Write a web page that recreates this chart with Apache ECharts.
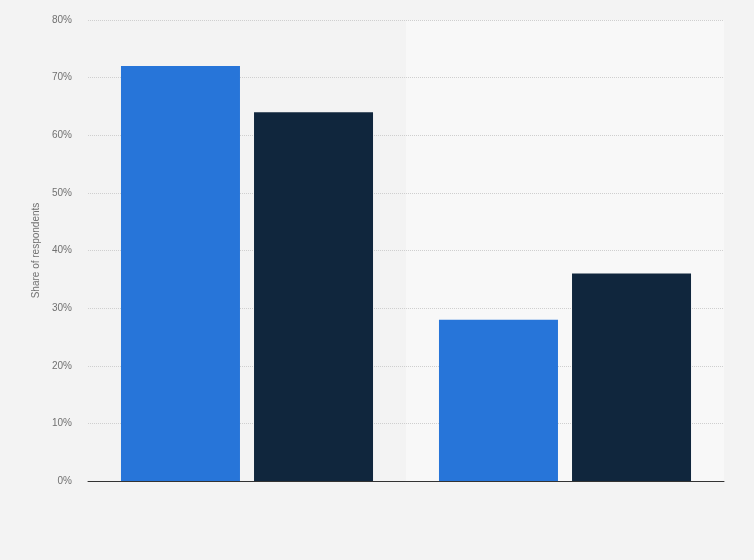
<!DOCTYPE html>
<html>
<head>
<meta charset="utf-8">
<script src="https://cdn.jsdelivr.net/npm/echarts@6/dist/echarts.min.js"></script>
<style>
html,body{margin:0;padding:0;background:#f3f3f3;}
#c{width:754px;height:560px;}
</style>
</head>
<body>
<div id="c"></div>
<script>
var categories = ['', ''];
var seriesA = [72, 28];
var seriesB = [64, 36];
var yTicks = [0, 10, 20, 30, 40, 50, 60, 70, 80];

var chart = echarts.init(document.getElementById('c'));
chart.setOption({
  backgroundColor: '#f3f3f3',
  animation: false,
  grid: { left: 88, right: 30, top: 20, bottom: 79 },
  xAxis: [{
    type: 'category',
    data: categories,
    z: 0,
    axisLine: { show: false },
    axisTick: { show: false },
    axisLabel: { show: false },
    splitArea: { show: true, areaStyle: { color: ['#f3f3f3', '#f8f8f8'] } }
  }, {
    type: 'category',
    data: categories,
    position: 'bottom',
    z: 5,
    axisLine: { show: true, onZero: false, lineStyle: { color: '#333', width: 1 } },
    axisTick: { show: false },
    axisLabel: { show: false },
    splitArea: { show: false },
    splitLine: { show: false }
  }],
  yAxis: {
    type: 'value',
    z: 1,
    min: yTicks[0],
    max: yTicks[yTicks.length - 1],
    interval: 10,
    name: 'Share of respondents',
    nameLocation: 'middle',
    nameGap: 43,
    nameTextStyle: { color: '#707070', fontSize: 10, fontFamily: 'Arial, Liberation Sans, sans-serif' },
    axisLine: { show: false },
    axisTick: { show: false },
    axisLabel: {
      margin: 16,
      color: '#707070',
      fontSize: 10,
      fontFamily: 'Arial, Liberation Sans, sans-serif',
      formatter: function (v) { return v + '%'; }
    },
    splitLine: { show: true, showMinLine: false, lineStyle: { color: '#cfcfcf', type: [1, 1], width: 1 } }
  },
  series: [
    {
      type: 'bar',
      z: 2,
      xAxisIndex: 0,
      data: seriesA,
      barWidth: 119,
      barGap: '11.8%',
      itemStyle: { color: '#2775d9' }
    },
    {
      type: 'bar',
      z: 2,
      xAxisIndex: 0,
      data: seriesB,
      barWidth: 119,
      itemStyle: { color: '#10263d' }
    }
  ]
});
</script>
</body>
</html>
